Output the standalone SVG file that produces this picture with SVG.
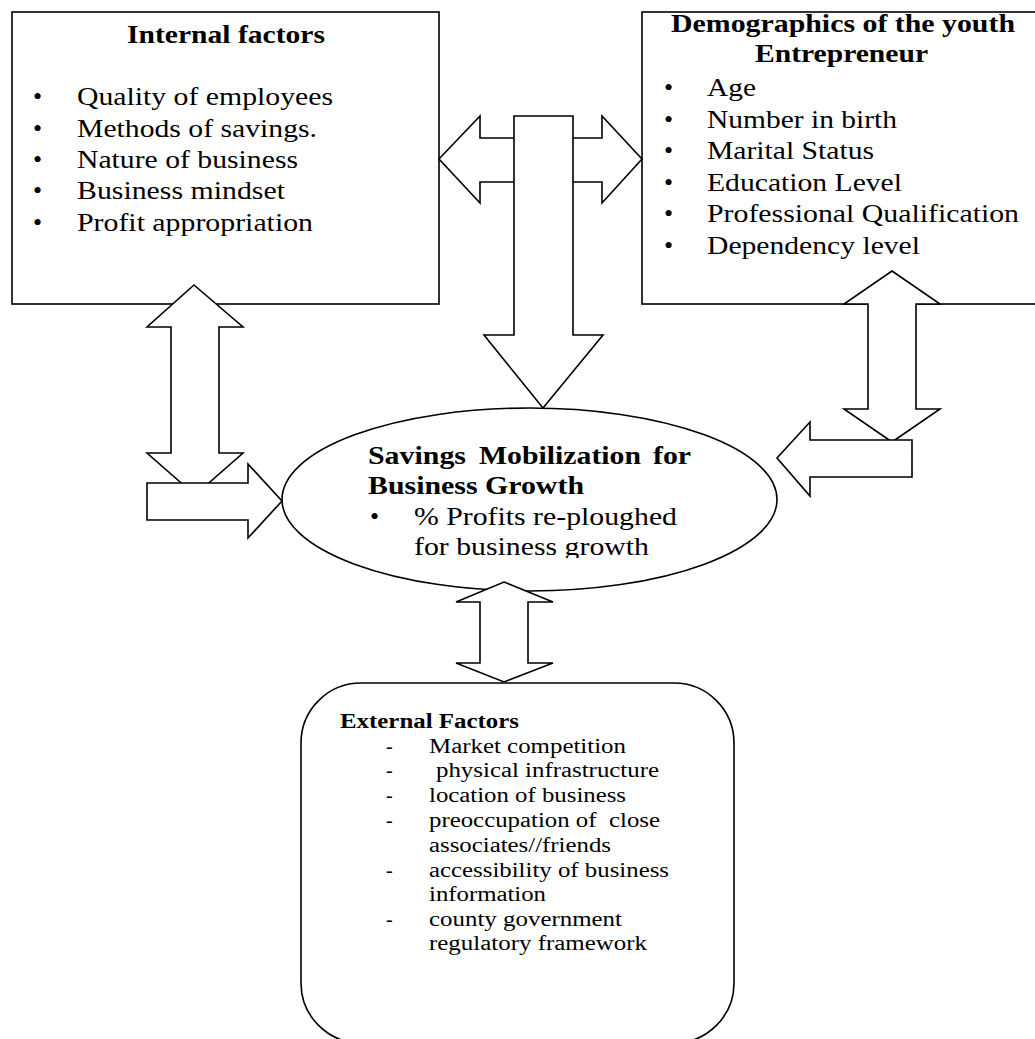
<svg xmlns="http://www.w3.org/2000/svg" width="1035" height="1039" viewBox="0 0 1035 1039">
<style>
.shape{fill:#fff;stroke:#000;stroke-width:1.6;stroke-linejoin:miter}
text{font-family:'Liberation Serif',Tinos,'Times New Roman',Times,serif;fill:#000}
.lg{font-size:26px}
.md{font-size:20px}
.b{font-weight:bold}
</style>
<defs>
<clipPath id="ellClip"><rect x="280" y="400" width="500" height="158"/></clipPath>
</defs>
<rect width="1035" height="1039" fill="#fff"/>

<g id="internal-factors">
<rect class="shape" x="12" y="12" width="427" height="292"/>
<text class="lg b" x="127" y="43" textLength="198" lengthAdjust="spacingAndGlyphs">Internal factors</text>
<g class="lg">
<text x="33" y="105">•</text><text x="77" y="105" textLength="256" lengthAdjust="spacingAndGlyphs">Quality of employees</text>
<text x="33" y="137">•</text><text x="77" y="137" textLength="240" lengthAdjust="spacingAndGlyphs">Methods of savings.</text>
<text x="33" y="168">•</text><text x="77" y="168" textLength="221" lengthAdjust="spacingAndGlyphs">Nature of business</text>
<text x="33" y="199">•</text><text x="77" y="199" textLength="208" lengthAdjust="spacingAndGlyphs">Business mindset</text>
<text x="33" y="231">•</text><text x="77" y="231" textLength="236" lengthAdjust="spacingAndGlyphs">Profit appropriation</text>
</g>
</g>

<g id="demographics">
<rect class="shape" x="642" y="12" width="400" height="292"/>
<text class="lg b" x="671" y="32" textLength="344" lengthAdjust="spacingAndGlyphs">Demographics of the youth</text>
<text class="lg b" x="755" y="62" textLength="173" lengthAdjust="spacingAndGlyphs">Entrepreneur</text>
<g class="lg">
<text x="664" y="96">•</text><text x="707" y="96" textLength="49" lengthAdjust="spacingAndGlyphs">Age</text>
<text x="664" y="128">•</text><text x="707" y="128" textLength="190" lengthAdjust="spacingAndGlyphs">Number in birth</text>
<text x="664" y="159">•</text><text x="707" y="159" textLength="167" lengthAdjust="spacingAndGlyphs">Marital Status</text>
<text x="664" y="191">•</text><text x="707" y="191" textLength="195" lengthAdjust="spacingAndGlyphs">Education Level</text>
<text x="664" y="222">•</text><text x="707" y="222" textLength="312" lengthAdjust="spacingAndGlyphs">Professional Qualification</text>
<text x="664" y="254">•</text><text x="707" y="254" textLength="213" lengthAdjust="spacingAndGlyphs">Dependency level</text>
</g>
</g>

<g id="savings-mobilization">
<ellipse class="shape" cx="529.5" cy="499.5" rx="247.5" ry="91.5"/>
<g clip-path="url(#ellClip)">
<text class="lg b" y="464"><tspan x="368" textLength="98" lengthAdjust="spacingAndGlyphs">Savings</tspan> <tspan x="479" textLength="162" lengthAdjust="spacingAndGlyphs">Mobilization</tspan> <tspan x="653" textLength="38" lengthAdjust="spacingAndGlyphs">for</tspan></text>
<text class="lg b" x="368" y="494" textLength="216" lengthAdjust="spacingAndGlyphs">Business Growth</text>
<text class="lg" x="370" y="525">•</text>
<text class="lg" x="414" y="525" textLength="263" lengthAdjust="spacingAndGlyphs">% Profits re-ploughed</text>
<text class="lg" x="414" y="555" textLength="235" lengthAdjust="spacingAndGlyphs">for business growth</text>
</g>
</g>

<g id="external-factors">
<rect class="shape" x="301" y="683" width="433" height="360" rx="60" ry="60"/>
<text class="md b" x="340" y="728" textLength="179" lengthAdjust="spacingAndGlyphs">External Factors</text>
<g class="md">
<text x="386" y="753">-</text><text x="429" y="753" textLength="197" lengthAdjust="spacingAndGlyphs">Market competition</text>
<text x="386" y="777">-</text><text x="436" y="777" textLength="223" lengthAdjust="spacingAndGlyphs">physical infrastructure</text>
<text x="386" y="802">-</text><text x="429" y="802" textLength="197" lengthAdjust="spacingAndGlyphs">location of business</text>
<text x="386" y="827">-</text><text x="429" y="827" textLength="231" lengthAdjust="spacingAndGlyphs" xml:space="preserve">preoccupation of  close</text>
<text x="429" y="852" textLength="182" lengthAdjust="spacingAndGlyphs">associates//friends</text>
<text x="386" y="877">-</text><text x="429" y="877" textLength="240" lengthAdjust="spacingAndGlyphs">accessibility of business</text>
<text x="429" y="901" textLength="117" lengthAdjust="spacingAndGlyphs">information</text>
<text x="386" y="926">-</text><text x="429" y="926" textLength="193" lengthAdjust="spacingAndGlyphs">county government</text>
<text x="429" y="950" textLength="218" lengthAdjust="spacingAndGlyphs">regulatory framework</text>
</g>
</g>

<g id="connectors">
<polygon id="arrow-internal-demographics" class="shape" points="439,159 480,116 480,138 602,138 602,116 642,159 602,203 602,182 480,182 480,203"/>
<polygon id="arrow-top-to-savings" class="shape" points="514,116 573,116 573,335 603,335 543,408 484,335 514,335"/>
<polygon id="arrow-internal-vertical" class="shape" points="194,285 243,327 219,327 219,453 243,453 195,495 147,453 171,453 171,327 147,327"/>
<polygon id="arrow-left-to-savings" class="shape" points="147,483 248,483 248,464 282,501 248,538 248,520 147,520"/>
<polygon id="arrow-demographics-vertical" class="shape" points="892,271 940,304 916,304 916,409 940,409 892,442 844,409 868,409 868,304 844,304"/>
<polygon id="arrow-right-to-savings" class="shape" points="912,440 912,477 810,477 810,496 777,458 810,422 810,440"/>
<polygon id="arrow-savings-external" class="shape" points="504,582 553,602 528,602 528,663 553,663 504,682 456,663 480,663 480,602 456,602"/>
</g>
</svg>
